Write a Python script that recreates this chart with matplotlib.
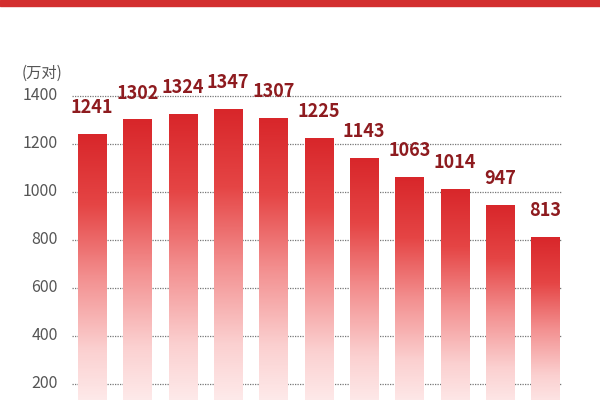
import matplotlib.pyplot as plt
import numpy as np
from matplotlib.colors import LinearSegmentedColormap
from matplotlib.patches import Rectangle

plt.rcParams['font.family'] = ['Noto Sans CJK SC', 'DejaVu Sans']

# 数据（单位：万对）
years = ['2013', '2014', '2015', '2016', '2017', '2018', '2019', '2020', '2021', '2022', '2023']
values = [1241, 1302, 1324, 1347, 1307, 1225, 1143, 1063, 1014, 947, 813]
yticks = [200, 400, 600, 800, 1000, 1200, 1400]

fig = plt.figure(figsize=(6, 4), dpi=100)
ax = fig.add_axes([0.12, 0.0, 0.817, 1.0])

x = np.arange(len(values))
ax.set_xlim(-0.44, 10.37)
ax.set_ylim(133, 1800)

# 虚线网格
for t in yticks:
    ax.axhline(t, color='#777777', linestyle=(0, (1, 1)), linewidth=0.9, zorder=0)

# 渐变柱子：顶部红色，向下渐淡
cmap = LinearSegmentedColormap.from_list(
    'redfade', ['#fff4f4', '#fbd0d0', '#f39090', '#e54545', '#d8262a'])
grad = np.linspace(0, 1, 256).reshape(-1, 1)
bars = ax.bar(x, values, width=0.62, color='none', edgecolor='none', zorder=2)
for b in bars:
    x0, w, h = b.get_x(), b.get_width(), b.get_height()
    im = ax.imshow(grad, cmap=cmap, aspect='auto', origin='lower',
                   extent=(x0, x0 + w, 40, h), zorder=2)
    im.set_clip_path(b)

# 数值标签
for xi, v in zip(x, values):
    ax.text(xi, v + 70, str(v), ha='center', va='bottom', fontsize=13,
            fontweight='bold', color='#8e1b1f', zorder=3)

# y轴刻度
for t in yticks:
    ax.text(-0.75, t, str(t), ha='right', va='center', fontsize=11.5, color='#555555')
ax.text(-0.66, 1496, '(万对)', ha='right', va='center', fontsize=11, color='#555555')

ax.axis('off')

# 顶部红色条
fig.patches.append(Rectangle((0, 0.985), 1, 0.015, transform=fig.transFigure,
                             color='#d32f2f', zorder=5))

fig.savefig('out.png', dpi=100)
